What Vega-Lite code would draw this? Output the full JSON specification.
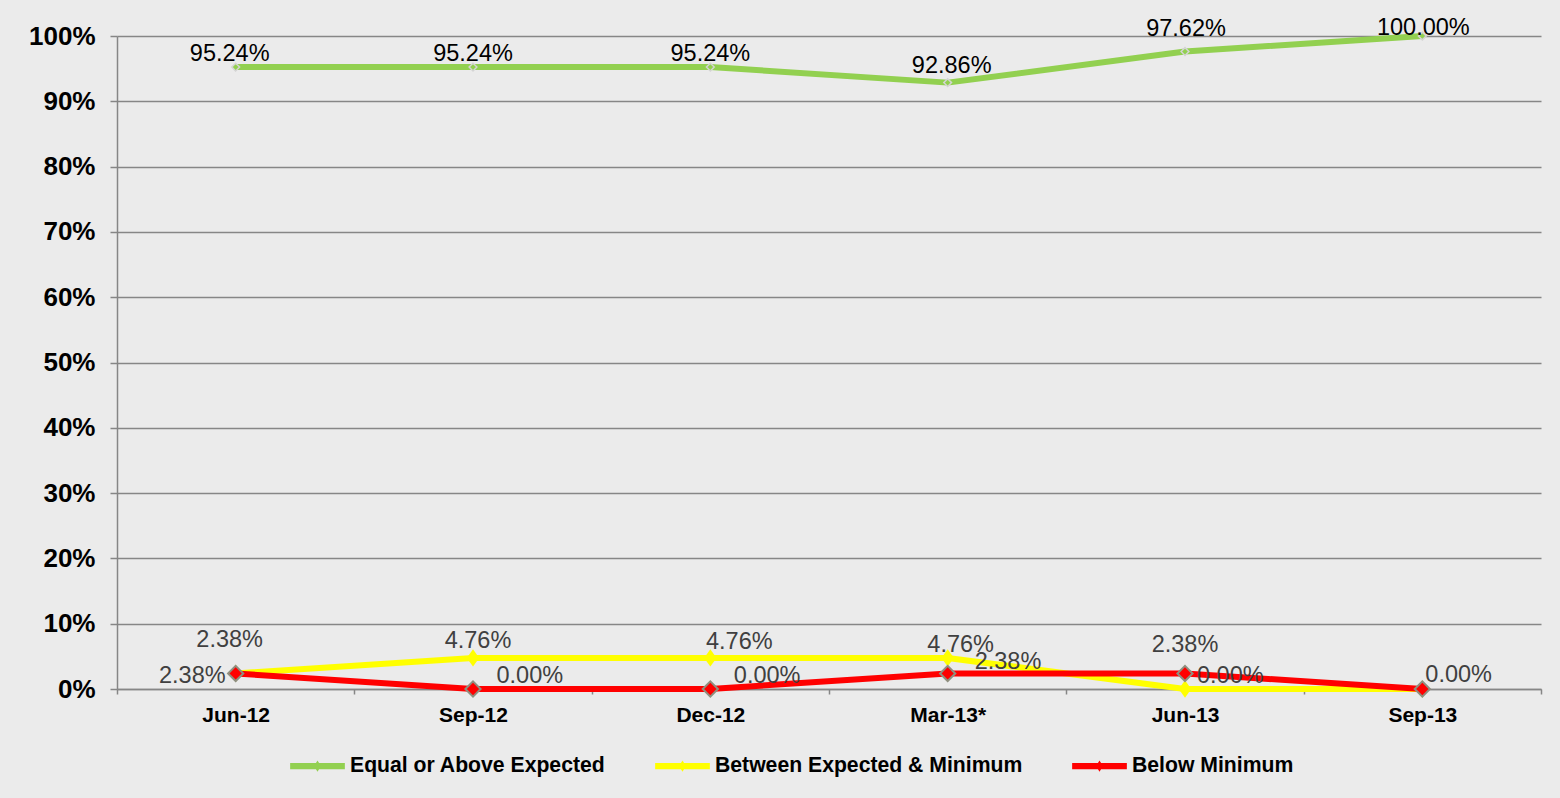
{
  "$schema": "https://vega.github.io/schema/vega-lite/v6.json",
  "width": 1424,
  "height": 653,
  "autosize": {"type": "none"},
  "padding": {"left": 117, "top": 36, "right": 19, "bottom": 109},
  "background": "#EBEBEB",
  "data": {
    "values": [
      {"period": "Jun-12", "series": "Equal or Above Expected", "share": 0.9524},
      {"period": "Sep-12", "series": "Equal or Above Expected", "share": 0.9524},
      {"period": "Dec-12", "series": "Equal or Above Expected", "share": 0.9524},
      {"period": "Mar-13*", "series": "Equal or Above Expected", "share": 0.9286},
      {"period": "Jun-13", "series": "Equal or Above Expected", "share": 0.9762},
      {"period": "Sep-13", "series": "Equal or Above Expected", "share": 1.0},
      {"period": "Jun-12", "series": "Between Expected & Minimum", "share": 0.0238},
      {"period": "Sep-12", "series": "Between Expected & Minimum", "share": 0.0476},
      {"period": "Dec-12", "series": "Between Expected & Minimum", "share": 0.0476},
      {"period": "Mar-13*", "series": "Between Expected & Minimum", "share": 0.0476},
      {"period": "Jun-13", "series": "Between Expected & Minimum", "share": 0.0},
      {"period": "Sep-13", "series": "Between Expected & Minimum", "share": 0.0},
      {"period": "Jun-12", "series": "Below Minimum", "share": 0.0238},
      {"period": "Sep-12", "series": "Below Minimum", "share": 0.0},
      {"period": "Dec-12", "series": "Below Minimum", "share": 0.0},
      {"period": "Mar-13*", "series": "Below Minimum", "share": 0.0238},
      {"period": "Jun-13", "series": "Below Minimum", "share": 0.0238},
      {"period": "Sep-13", "series": "Below Minimum", "share": 0.0}
    ]
  },
  "encoding": {
    "x": {
      "field": "period",
      "type": "ordinal",
      "sort": ["Jun-12", "Sep-12", "Dec-12", "Mar-13*", "Jun-13", "Sep-13"],
      "scale": {"paddingInner": 0, "paddingOuter": 0},
      "axis": {
        "title": null,
        "labelAngle": 0,
        "tickBand": "extent",
        "tickSize": 5,
        "labelPadding": 10,
        "labelFontSize": 21,
        "labelFontWeight": "bold",
        "grid": false
      }
    },
    "y": {
      "field": "share",
      "type": "quantitative",
      "scale": {"domain": [0, 1], "nice": false, "zero": true},
      "axis": {
        "title": null,
        "values": [0, 0.1, 0.2, 0.3, 0.4, 0.5, 0.6, 0.7, 0.8, 0.9, 1.0],
        "format": ".0%",
        "tickSize": 7,
        "labelPadding": 15,
        "labelFontSize": 26,
        "labelFontWeight": "bold",
        "grid": true
      }
    }
  },
  "layer": [
    {
      "transform": [{"filter": {"field": "series", "equal": "Equal or Above Expected"}}],
      "mark": {"type": "line", "strokeWidth": 6, "strokeJoin": "round"},
      "encoding": {
        "color": {
          "field": "series",
          "type": "nominal",
          "scale": {
            "domain": ["Equal or Above Expected", "Between Expected & Minimum", "Below Minimum"],
            "range": ["#92D050", "#FFFF00", "#FF0000"]
          },
          "legend": {
            "title": null,
            "orient": "none",
            "legendX": 172,
            "legendY": 701.5,
            "direction": "horizontal",
            "columns": 3,
            "padding": 0,
            "symbolType": "M-0.96,-0.11H0.96V0.11H-0.96Z M0,-0.2L0.12,0L0,0.2L-0.12,0Z",
            "symbolSize": 3249,
            "symbolStrokeWidth": 0,
            "labelOffset": 4,
            "columnPadding": 48,
            "labelFontSize": 21.2,
            "labelFontWeight": "bold",
            "labelColor": "#000000",
            "labelLimit": 0,
            "encode": {
              "symbols": {
                "update": {
                  "fill": {"scale": "color", "field": "value"},
                  "stroke": {"value": "transparent"}
                }
              }
            }
          }
        }
      }
    },
    {
      "transform": [{"filter": {"field": "series", "equal": "Equal or Above Expected"}}],
      "mark": {"type": "point", "shape": "diamond", "size": 60, "filled": true, "fill": "#92D050", "stroke": "#D4D4D4", "strokeWidth": 1.5, "opacity": 1}
    },
    {
      "transform": [{"filter": {"field": "series", "equal": "Between Expected & Minimum"}}],
      "mark": {"type": "line", "strokeWidth": 6, "strokeJoin": "round"},
      "encoding": {"color": {"field": "series", "type": "nominal"}}
    },
    {
      "transform": [{"filter": {"field": "series", "equal": "Between Expected & Minimum"}}],
      "mark": {"type": "point", "shape": "M0,-1L0.72,0L0,1L-0.72,0Z", "size": 300, "filled": true, "fill": "#FFFF00", "strokeWidth": 0, "opacity": 1}
    },
    {
      "transform": [{"filter": {"field": "series", "equal": "Below Minimum"}}],
      "mark": {"type": "line", "strokeWidth": 6, "strokeJoin": "round"},
      "encoding": {"color": {"field": "series", "type": "nominal"}}
    },
    {
      "transform": [{"filter": {"field": "series", "equal": "Below Minimum"}}],
      "mark": {"type": "point", "shape": "diamond", "size": 230, "filled": true, "fill": "#FF0000", "stroke": "#8F8F7F", "strokeWidth": 2, "opacity": 1}
    },

    {
      "transform": [{"filter": {"and": [{"field": "series", "equal": "Equal or Above Expected"}, {"field": "period", "equal": "Jun-12"}]}}],
      "mark": {"type": "text", "fontSize": 23.5, "color": "#000000", "align": "center", "baseline": "alphabetic", "dx": -6, "dy": -6},
      "encoding": {"text": {"field": "share", "type": "quantitative", "format": ".2%"}}
    },
    {
      "transform": [{"filter": {"and": [{"field": "series", "equal": "Equal or Above Expected"}, {"field": "period", "oneOf": ["Sep-12", "Dec-12"]}]}}],
      "mark": {"type": "text", "fontSize": 23.5, "color": "#000000", "align": "center", "baseline": "alphabetic", "dx": 0, "dy": -6},
      "encoding": {"text": {"field": "share", "type": "quantitative", "format": ".2%"}}
    },
    {
      "transform": [{"filter": {"and": [{"field": "series", "equal": "Equal or Above Expected"}, {"field": "period", "equal": "Mar-13*"}]}}],
      "mark": {"type": "text", "fontSize": 23.5, "color": "#000000", "align": "center", "baseline": "alphabetic", "dx": 4, "dy": -10},
      "encoding": {"text": {"field": "share", "type": "quantitative", "format": ".2%"}}
    },
    {
      "transform": [{"filter": {"and": [{"field": "series", "equal": "Equal or Above Expected"}, {"field": "period", "equal": "Jun-13"}]}}],
      "mark": {"type": "text", "fontSize": 23.5, "color": "#000000", "align": "center", "baseline": "alphabetic", "dx": 1, "dy": -16},
      "encoding": {"text": {"field": "share", "type": "quantitative", "format": ".2%"}}
    },
    {
      "transform": [{"filter": {"and": [{"field": "series", "equal": "Equal or Above Expected"}, {"field": "period", "equal": "Sep-13"}]}}],
      "mark": {"type": "text", "fontSize": 23.5, "color": "#000000", "align": "center", "baseline": "alphabetic", "dx": 1, "dy": -1},
      "encoding": {"text": {"field": "share", "type": "quantitative", "format": ".2%"}}
    },

    {
      "transform": [{"filter": {"and": [{"field": "series", "equal": "Between Expected & Minimum"}, {"field": "period", "equal": "Jun-12"}]}}],
      "mark": {"type": "text", "fontSize": 23.5, "color": "#404040", "align": "center", "baseline": "alphabetic", "dx": -6, "dy": -26},
      "encoding": {"text": {"field": "share", "type": "quantitative", "format": ".2%"}}
    },
    {
      "transform": [{"filter": {"and": [{"field": "series", "equal": "Between Expected & Minimum"}, {"field": "period", "equal": "Sep-12"}]}}],
      "mark": {"type": "text", "fontSize": 23.5, "color": "#404040", "align": "center", "baseline": "alphabetic", "dx": 5, "dy": -10},
      "encoding": {"text": {"field": "share", "type": "quantitative", "format": ".2%"}}
    },
    {
      "transform": [{"filter": {"and": [{"field": "series", "equal": "Between Expected & Minimum"}, {"field": "period", "equal": "Dec-12"}]}}],
      "mark": {"type": "text", "fontSize": 23.5, "color": "#404040", "align": "center", "baseline": "alphabetic", "dx": 29, "dy": -9},
      "encoding": {"text": {"field": "share", "type": "quantitative", "format": ".2%"}}
    },
    {
      "transform": [{"filter": {"and": [{"field": "series", "equal": "Between Expected & Minimum"}, {"field": "period", "equal": "Mar-13*"}]}}],
      "mark": {"type": "text", "fontSize": 23.5, "color": "#404040", "align": "center", "baseline": "alphabetic", "dx": 13, "dy": -6},
      "encoding": {"text": {"field": "share", "type": "quantitative", "format": ".2%"}}
    },
    {
      "transform": [{"filter": {"and": [{"field": "series", "equal": "Between Expected & Minimum"}, {"field": "period", "equal": "Jun-13"}]}}],
      "mark": {"type": "text", "fontSize": 23.5, "color": "#404040", "align": "left", "baseline": "alphabetic", "dx": 12, "dy": -6},
      "encoding": {"text": {"field": "share", "type": "quantitative", "format": ".2%"}}
    },

    {
      "transform": [{"filter": {"and": [{"field": "series", "equal": "Below Minimum"}, {"field": "period", "equal": "Jun-12"}]}}],
      "mark": {"type": "text", "fontSize": 23.5, "color": "#404040", "align": "right", "baseline": "alphabetic", "dx": -10, "dy": 9.5},
      "encoding": {"text": {"field": "share", "type": "quantitative", "format": ".2%"}}
    },
    {
      "transform": [{"filter": {"and": [{"field": "series", "equal": "Below Minimum"}, {"field": "period", "oneOf": ["Sep-12", "Dec-12"]}]}}],
      "mark": {"type": "text", "fontSize": 23.5, "color": "#404040", "align": "left", "baseline": "alphabetic", "dx": 23.5, "dy": -6.5},
      "encoding": {"text": {"field": "share", "type": "quantitative", "format": ".2%"}}
    },
    {
      "transform": [{"filter": {"and": [{"field": "series", "equal": "Below Minimum"}, {"field": "period", "equal": "Mar-13*"}]}}],
      "mark": {"type": "text", "fontSize": 23.5, "color": "#404040", "align": "left", "baseline": "alphabetic", "dx": 27, "dy": -4.5},
      "encoding": {"text": {"field": "share", "type": "quantitative", "format": ".2%"}}
    },
    {
      "transform": [{"filter": {"and": [{"field": "series", "equal": "Below Minimum"}, {"field": "period", "equal": "Jun-13"}]}}],
      "mark": {"type": "text", "fontSize": 23.5, "color": "#404040", "align": "center", "baseline": "alphabetic", "dx": 0, "dy": -21.5},
      "encoding": {"text": {"field": "share", "type": "quantitative", "format": ".2%"}}
    },
    {
      "transform": [{"filter": {"and": [{"field": "series", "equal": "Below Minimum"}, {"field": "period", "equal": "Sep-13"}]}}],
      "mark": {"type": "text", "fontSize": 23.5, "color": "#404040", "align": "left", "baseline": "alphabetic", "dx": 3, "dy": -7},
      "encoding": {"text": {"field": "share", "type": "quantitative", "format": ".2%"}}
    }
  ],
  "config": {
    "font": "Liberation Sans",
    "view": {"stroke": null},
    "axis": {
      "labelFont": "Liberation Sans",
      "labelColor": "#000000",
      "domainColor": "#868686",
      "domainWidth": 1.5,
      "tickColor": "#868686",
      "tickWidth": 1.5,
      "gridColor": "#868686",
      "gridWidth": 1.5,
      "gridOpacity": 1
    },
    "legend": {"labelFont": "Liberation Sans"},
    "text": {"font": "Liberation Sans"}
  }
}
